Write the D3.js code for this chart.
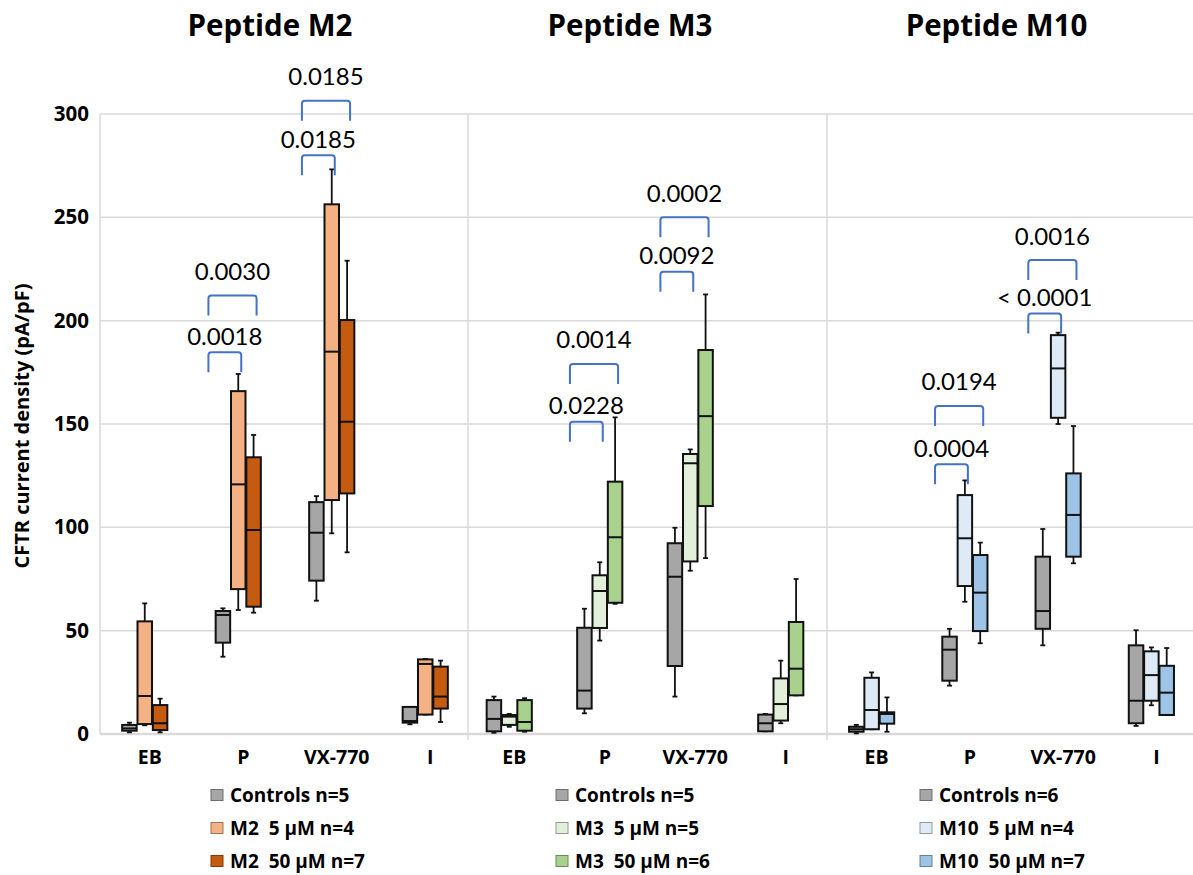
<!DOCTYPE html>
<html>
<head>
<meta charset="utf-8">
<script src="https://cdn.jsdelivr.net/npm/d3@7"></script>
<style>
  body { margin: 0; background: #fff; }
  text { font-family: Lato, "Open Sans", sans-serif; }
  .bold { font-family: "Open Sans", sans-serif; font-weight: bold; }
</style>
</head>
<body>
<svg id="chart"></svg>
<script>
// categories
const conditions = ["EB", "P", "VX-770", "I"];
const panelTitles = ["Peptide M2", "Peptide M3", "Peptide M10"];
const yTicks = [0, 50, 100, 150, 200, 250, 300];

// box stats per condition: [min, q1, median, q3, max]
const m2Controls = [[0.8, 1.6, 2.7, 4.4, 5.5], [37.4, 44.2, 57.6, 59.5, 60.8], [64.5, 74.2, 97.4, 112.2, 115.1], [4.7, 5.5, 6.3, 13.1, 13.1]];
const m2Low      = [[4.2, 4.8, 18.4, 54.5, 63.2], [60, 70.1, 120.8, 165.9, 174.2], [97.1, 113.2, 185, 256.3, 273.2], [9.4, 9.4, 33.9, 36.1, 36.3]];
const m2High     = [[0.8, 1.9, 5.2, 14, 17.1], [58.7, 61.6, 98.7, 133.9, 144.7], [87.9, 116.4, 151.1, 200.3, 229], [5.8, 12.3, 18.1, 32.6, 35.5]];

const m3Controls = [[0.6, 1.3, 7.3, 16.4, 18.1], [10, 12.3, 21, 51.4, 60.6], [18.1, 32.9, 76.1, 92.3, 99.8], [1.3, 1.3, 5.2, 9.4, 9.7]];
const m3Low      = [[3.5, 4.4, 8.4, 9.2, 9.7], [45.2, 51.3, 69.2, 76.8, 83.1], [79, 83.5, 131, 135.5, 137.7], [5.2, 6.5, 14.5, 26.9, 35.5]];
const m3High     = [[1.1, 1.6, 5.8, 16.4, 17.3], [63, 63.5, 95.2, 122.1, 153.2], [85.1, 110.3, 153.8, 185.8, 212.7], [18.7, 18.7, 31.6, 54.2, 75]];

const m10Controls = [[0.3, 1.1, 2.3, 3.5, 4.4], [23.4, 25.8, 40.8, 47.1, 50.9], [42.9, 50.9, 59.5, 85.8, 99.2], [3.9, 5.2, 16.1, 42.9, 50.2]];
const m10Low      = [[2.3, 2.3, 11.6, 27.2, 29.8], [64, 71.6, 94.7, 115.6, 122.7], [150, 153, 176.9, 193, 194.2], [13.9, 16.1, 28.5, 40, 41.9]];
const m10High     = [[1.1, 5, 9.7, 10.5, 17.7], [43.9, 49.8, 68.4, 86.6, 92.6], [82.6, 85.8, 106, 126.1, 149], [9.2, 9.2, 20, 33, 41.6]];

const seriesNames = [
  ["Controls n=5", "M2  5 µM n=4", "M2  50 µM n=7"],
  ["Controls n=5", "M3  5 µM n=5", "M3  50 µM n=6"],
  ["Controls n=6", "M10  5 µM n=4", "M10  50 µM n=7"]
];
const seriesColors = [
  ["#a6a6a6", "#f4b183", "#c55a11"],
  ["#a6a6a6", "#e2f0d9", "#a9d18e"],
  ["#a6a6a6", "#deebf7", "#9dc3e6"]
];

// p-value brackets: [condition, series to, top value, label, outer?]
const m2Brackets  = [["P", 1, 184.7, "0.0018", 0], ["P", 2, 212.2, "0.0030", 1], ["VX-770", 1, 280.1, "0.0185", 0], ["VX-770", 2, 306.4, "0.0185", 1]];
const m3Brackets  = [["P", 1, 151.1, "0.0228", 0], ["P", 2, 179, "0.0014", 1], ["VX-770", 1, 223.7, "0.0092", 0], ["VX-770", 2, 250, "0.0002", 1]];
const m10Brackets = [["P", 1, 130.5, "0.0004", 0], ["P", 2, 158.7, "0.0194", 1], ["VX-770", 1, 203.5, "< 0.0001", 0], ["VX-770", 2, 229.3, "0.0016", 1]];

const panels = [
  { series: [m2Controls, m2Low, m2High], brackets: m2Brackets, range: [98, 472] },
  { series: [m3Controls, m3Low, m3High], brackets: m3Brackets, range: [464, 826] },
  { series: [m10Controls, m10Low, m10High], brackets: m10Brackets, range: [825, 1198] }
];

const width = 1193, height = 875;
const plotLeft = 100, plotRight = 1193;
const separators = [468, 827];
const boxW = 14.5;

const svg = d3.select("#chart").attr("width", width).attr("height", height);
svg.append("rect").attr("width", width).attr("height", height).attr("fill", "#fff");

const y = d3.scaleLinear().domain([0, 300]).range([734, 114]);
const sub = d3.scaleBand().domain([0, 1, 2]).range([-23, 23]);
const subC = i => sub(i) + sub.bandwidth() / 2;

// grid
svg.append("g").selectAll("line").data(yTicks).join("line")
  .attr("x1", plotLeft).attr("x2", plotRight)
  .attr("y1", d => y(d)).attr("y2", d => y(d))
  .attr("stroke", "#d9d9d9").attr("stroke-width", d => d === 0 ? 2.5 : 1.5);

svg.append("g").selectAll("line").data([plotLeft, ...separators]).join("line")
  .attr("x1", d => d).attr("x2", d => d)
  .attr("y1", y(300)).attr("y2", d => d === plotLeft ? y(0) : y(0) + 6)
  .attr("stroke", "#d9d9d9").attr("stroke-width", 1.5);

// y axis labels
const yAxis = d3.axisLeft(y).tickValues(yTicks).tickSize(0).tickPadding(11);
const yg = svg.append("g").attr("transform", `translate(${plotLeft},0)`).call(yAxis);
yg.select(".domain").remove();
yg.selectAll("text").attr("class", "bold").attr("font-family", null)
  .attr("font-size", 20.5).attr("fill", "#000");

svg.append("text")
  .attr("class", "bold")
  .attr("transform", `translate(29,${y(149)}) rotate(-90)`)
  .attr("text-anchor", "middle")
  .attr("font-size", 20)
  .text("CFTR current density (pA/pF)");

panels.forEach((p, pi) => {
  const x = d3.scaleBand().domain(conditions).range(p.range);
  const xc = c => x(c) + x.bandwidth() / 2;
  const g = svg.append("g");
  const mid = (p.range[0] + p.range[1]) / 2;

  g.append("text")
    .attr("class", "bold")
    .attr("x", mid - 15).attr("y", 36)
    .attr("text-anchor", "middle")
    .attr("font-size", 29.5)
    .text(panelTitles[pi]);

  // x labels
  g.selectAll(".xl").data(conditions).join("text")
    .attr("class", "bold")
    .attr("x", d => xc(d) + 5).attr("y", 764)
    .attr("text-anchor", "middle")
    .attr("font-size", 19.5)
    .text(d => d);

  // boxes
  p.series.forEach((s, si) => {
    const boxes = g.append("g").selectAll("g").data(s.map((v, i) => ({ c: conditions[i], v })))
      .join("g").attr("transform", d => `translate(${xc(d.c) + subC(si)},0)`);

    boxes.append("line")
      .attr("y1", d => y(d.v[4])).attr("y2", d => y(d.v[0]))
      .attr("stroke", "#111").attr("stroke-width", 1.8);
    boxes.selectAll(".cap").data(d => [d.v[0], d.v[4]]).join("line")
      .attr("x1", -2.5).attr("x2", 2.5)
      .attr("y1", d => y(d)).attr("y2", d => y(d))
      .attr("stroke", "#111").attr("stroke-width", 1.8);
    boxes.append("rect")
      .attr("x", -boxW / 2).attr("width", boxW)
      .attr("y", d => y(d.v[3])).attr("height", d => Math.max(y(d.v[1]) - y(d.v[3]), 1))
      .attr("fill", seriesColors[pi][si]).attr("stroke", "#111").attr("stroke-width", 2);
    boxes.append("line")
      .attr("x1", -boxW / 2).attr("x2", boxW / 2)
      .attr("y1", d => y(d.v[2])).attr("y2", d => y(d.v[2]))
      .attr("stroke", "#111").attr("stroke-width", 2);
  });

  // brackets
  p.brackets.forEach(b => {
    const x1 = xc(b[0]) + subC(0) - boxW;
    const x2 = xc(b[0]) + subC(b[1]) + 3;
    const yt = y(b[2]), leg = 20, r = 3;
    g.append("path")
      .attr("d", `M${x1},${yt + leg} L${x1},${yt + r} Q${x1},${yt} ${x1 + r},${yt} L${x2 - r},${yt} Q${x2},${yt} ${x2},${yt + r} L${x2},${yt + leg}`)
      .attr("fill", "none").attr("stroke", "#4472c4").attr("stroke-width", 2);
    g.append("text")
      .attr("x", (x1 + x2) / 2).attr("y", yt - (b[4] ? 24 : 16))
      .attr("dy", "0.35em")
      .attr("text-anchor", "middle")
      .attr("font-size", 24)
      .text(b[3]);
  });

  // legend
  const lx = [211, 556, 920][pi];
  const leg = g.append("g").selectAll("g").data(seriesNames[pi]).join("g")
    .attr("transform", (d, i) => `translate(${lx},${795 + i * 33})`);
  leg.append("rect")
    .attr("x", 0).attr("y", -5.5).attr("width", 12).attr("height", 11)
    .attr("fill", (d, i) => seriesColors[pi][i])
    .attr("stroke", (d, i) => d3.color(seriesColors[pi][i]).darker(1.2)).attr("stroke-width", 1);
  leg.append("text")
    .attr("class", "bold")
    .attr("x", 19).attr("dy", "0.35em")
    .attr("font-size", 19)
    .style("white-space", "pre")
    .text(d => d);
});
</script>
</body>
</html>
